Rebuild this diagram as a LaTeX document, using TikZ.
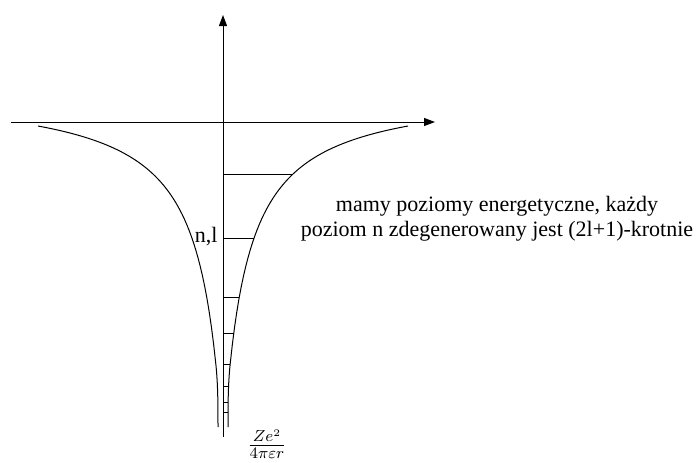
\documentclass[tikz,border=0pt]{standalone}
\usepackage{fontspec}
\setmainfont{Liberation Serif}
\usepackage{amsmath}
\usetikzlibrary{arrows.meta}

\begin{document}
\begin{tikzpicture}[x=0.5pt, y=0.5pt, line width=0.5pt, >={Triangle[length=5.5pt, width=4pt]},
    font=\fontsize{11}{12.5}\selectfont]
  \useasboundingbox (-223,-340) rectangle (477,122);
  % Axes
  \draw[->] (-212,0) -- (212,0);
  \draw[->] (0,-315) -- (0,107);
  % Potential well: right branch, then its mirror image
  \draw plot[domain=185:7, samples=80] (\x, {34.1 - 7862/(\x+21.3)})
    .. controls (5,-263.6) and (5,-285) .. (5,-305);
  \draw[xscale=-1] plot[domain=185:7, samples=80] (\x, {34.1 - 7862/(\x+21.3)})
    .. controls (5,-263.6) and (5,-285) .. (5,-305);
  % Energy levels
  \foreach \h/\d in {52/70, 116/31, 175/16, 211/11, 242/7, 264/5.6, 280/5.2, 290/5.1}
    \draw (0,-\h) -- (\d,-\h);
  % Labels
  \node[anchor=base east, inner sep=1pt] (nl) at (-3,-120) {n,l};
  \node[align=center, inner sep=0pt] (opis) at (274,-97)
    {mamy poziomy energetyczne, każdy\\poziom n zdegenerowany jest (2l+1)-krotnie};
  \node[inner sep=0pt] (pot) at (44,-322) {$\frac{Ze^2}{4\pi\varepsilon r}$};
\end{tikzpicture}
\end{document}
